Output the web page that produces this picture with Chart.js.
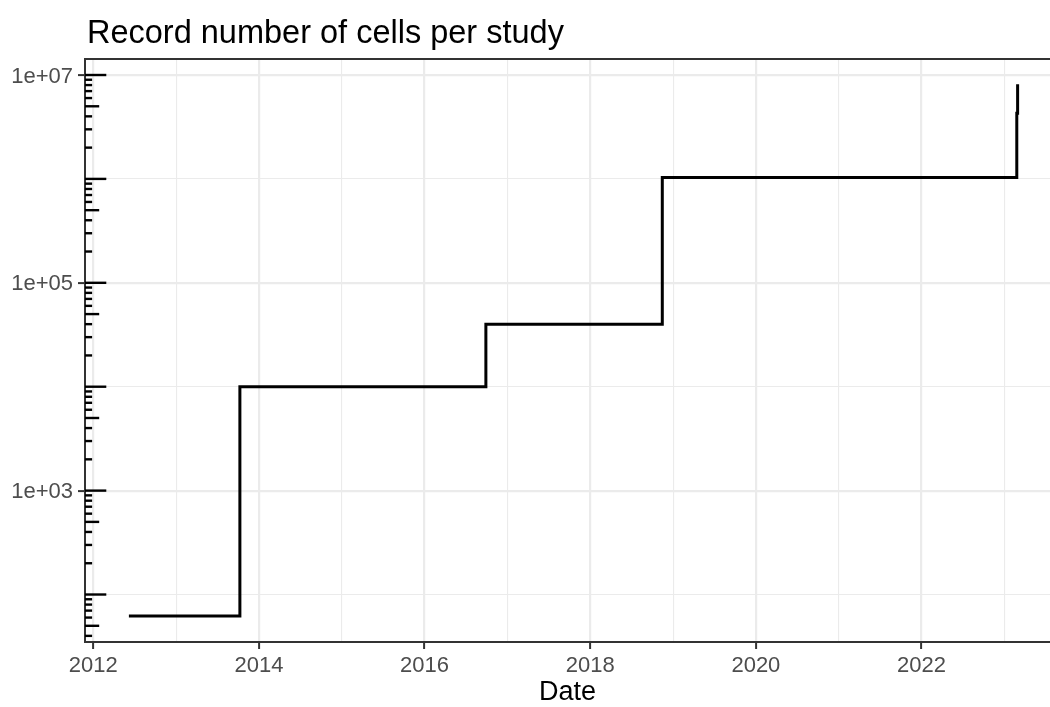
<!DOCTYPE html>
<html>
<head>
<meta charset="utf-8">
<title>Record number of cells per study</title>
<script src="https://cdn.jsdelivr.net/npm/chart.js@4.4.1/dist/chart.umd.min.js"></script>
<style>
  html, body { margin: 0; padding: 0; background: #ffffff; overflow: hidden; }
  canvas { display: block; }
</style>
</head>
<body>
<canvas id="chart" width="1050" height="707"></canvas>
<script>
// Study publication dates (decimal years) and the record cell count reached at each date
const studyDates = [2012.43, 2013.77, 2016.74, 2018.87, 2023.15, 2023.16];
const recordCells = [62, 10000, 40000, 1030000, 4280000, 8140000];

// Axis breaks
const yearBreaks = [2012, 2013, 2014, 2015, 2016, 2017, 2018, 2019, 2020, 2021, 2022, 2023];
const yearLabels = ['2012', '', '2014', '', '2016', '', '2018', '', '2020', '', '2022', ''];
const cellBreaks = [1e2, 1e3, 1e4, 1e5, 1e6, 1e7];
const cellLabels = ['', '1e+03', '', '1e+05', '', '1e+07'];

const chartTitle = 'Record number of cells per study';
const xAxisTitle = 'Date';

const FONT = '"Liberation Sans", Arial, Helvetica, sans-serif';
const GRID = '#ebebeb';
const DARK = '#333333';

const points = studyDates.map((d, i) => ({ x: d, y: recordCells[i] }));

// Panel frame, log-scale ticks along the left edge, and titles
const decorations = {
  id: 'decorations',
  beforeDraw(chart) {
    const c = chart.ctx;
    c.save();
    c.fillStyle = '#ffffff';
    c.fillRect(0, 0, chart.width, chart.height);
    c.restore();
  },
  afterDraw(chart) {
    const c = chart.ctx;
    const area = chart.chartArea;
    const y = chart.scales.y;
    c.save();
    // top edge of the panel
    c.strokeStyle = DARK;
    c.lineWidth = 2;
    c.beginPath();
    c.moveTo(area.left - 1, area.top);
    c.lineTo(area.right, area.top);
    c.stroke();

    // logticks: long at 10^k, mid at 5*10^k, short elsewhere
    c.strokeStyle = '#000000';
    c.lineWidth = 2.4;
    c.lineCap = 'butt';
    for (let k = 0; k <= 8; k++) {
      for (let m = 1; m <= 9; m++) {
        const v = m * Math.pow(10, k);
        if (v < y.min || v > y.max) continue;
        const py = y.getPixelForValue(v);
        const len = m === 1 ? 21.3 : (m === 5 ? 14.2 : 7.1);
        c.beginPath();
        c.moveTo(area.left, py);
        c.lineTo(area.left + len, py);
        c.stroke();
      }
    }

    // titles
    c.fillStyle = '#000000';
    c.textBaseline = 'alphabetic';
    c.textAlign = 'left';
    c.font = '32.5px ' + FONT;
    c.fillText(chartTitle, 87, 43);
    c.textAlign = 'center';
    c.font = '27px ' + FONT;
    c.fillText(xAxisTitle, (area.left + area.right) / 2, 700);
    c.restore();
  }
};

new Chart(document.getElementById('chart'), {
  type: 'line',
  data: {
    datasets: [{
      data: points,
      borderColor: '#000000',
      borderWidth: 3,
      pointRadius: 0,
      pointHoverRadius: 0,
      fill: false,
      stepped: 'before',
      tension: 0
    }]
  },
  plugins: [decorations],
  options: {
    responsive: false,
    animation: false,
    devicePixelRatio: 1,
    events: [],
    layout: { padding: { top: 59, left: 0, right: 0, bottom: 0 } },
    plugins: {
      legend: { display: false },
      title: { display: false },
      tooltip: { enabled: false }
    },
    scales: {
      x: {
        type: 'linear',
        min: 2011.900,
        max: 2023.551,
        afterBuildTicks(scale) {
          scale.ticks = yearBreaks.map(v => ({ value: v }));
        },
        afterFit(scale) { scale.height = 65; },
        ticks: {
          autoSkip: false,
          maxRotation: 0,
          padding: 4,
          color: '#4d4d4d',
          font: { family: FONT, size: 22 },
          callback(value) {
            const i = yearBreaks.indexOf(value);
            return i >= 0 ? yearLabels[i] : '';
          }
        },
        grid: {
          color: GRID,
          lineWidth: ctx => (ctx.tick && ctx.tick.value % 2 === 0 ? 2.2 : 1.1),
          tickColor: ctx => (ctx.tick && ctx.tick.value % 2 === 0 ? DARK : 'rgba(0,0,0,0)'),
          tickWidth: 2,
          tickLength: 7
        },
        border: { display: true, color: DARK, width: 2 }
      },
      y: {
        type: 'logarithmic',
        min: Math.pow(10, 1.543),
        max: Math.pow(10, 7.154),
        afterBuildTicks(scale) {
          scale.ticks = cellBreaks.map(v => ({ value: v }));
        },
        afterFit(scale) { scale.width = 85; },
        ticks: {
          autoSkip: false,
          padding: 5,
          labelOffset: 1.5,
          color: '#4d4d4d',
          font: { family: FONT, size: 22 },
          callback(value) {
            const i = cellBreaks.indexOf(value);
            return i >= 0 ? cellLabels[i] : '';
          }
        },
        grid: {
          color: GRID,
          lineWidth: ctx => (ctx.tick && cellLabels[cellBreaks.indexOf(ctx.tick.value)] ? 2.2 : 1.1),
          tickColor: ctx => (ctx.tick && cellLabels[cellBreaks.indexOf(ctx.tick.value)] ? DARK : 'rgba(0,0,0,0)'),
          tickWidth: 2,
          tickLength: 7
        },
        border: { display: true, color: DARK, width: 2 }
      }
    }
  }
});
</script>
</body>
</html>
